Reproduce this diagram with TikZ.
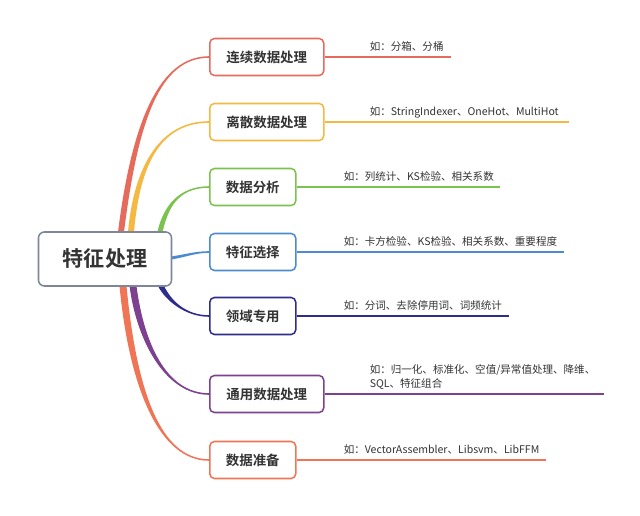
\documentclass[tikz,border=0pt]{standalone}
\usepackage{fontspec}
\setmainfont{Noto Sans CJK SC}[BoldFont={Noto Sans CJK SC Bold}]
\usepackage{xcolor}
\usepackage{tikz}
\usetikzlibrary{calc}
\definecolor{inkgray}{HTML}{333333}
\definecolor{rootgray}{HTML}{7D8799}
\definecolor{contred}{HTML}{E56B5D}
\definecolor{discorange}{HTML}{F5B843}
\definecolor{analgreen}{HTML}{7BC24F}
\definecolor{selblue}{HTML}{4C8BD0}
\definecolor{domnavy}{HTML}{2F2D8C}
\definecolor{genpurple}{HTML}{7E418F}
\definecolor{prepcoral}{HTML}{EF7556}

% tapered branch: colour, start, control 1, control 2, end, start offset, end offset
\newcommand{\taperbranch}[7]{%
  \fill[#1] ($#2+#6$) .. controls ($#3+#6$) and ($#4+#7$) .. ($#5+#7$)
    -- ($#5-#7$) .. controls ($#4-#7$) and ($#3-#6$) .. ($#2-#6$) -- cycle;}

\begin{document}
\begin{tikzpicture}[x=0.03cm, y=-0.03cm,
  rootbox/.style={draw=rootgray, line width=1.3pt, rounded corners=5pt, fill=white,
    minimum width=3.99cm, minimum height=1.62cm, inner sep=0pt,
    font=\fontsize{18}{22}\selectfont\bfseries, text=inkgray},
  topicbox/.style={draw=#1, line width=1.3pt, rounded corners=4pt, fill=white,
    minimum height=1.11cm, inner sep=0pt, anchor=west,
    font=\fontsize{11.5}{14}\selectfont\bfseries, text=inkgray},
  widebox/.style={minimum width=3.42cm},
  narrowbox/.style={minimum width=2.58cm},
  leafline/.style={draw=#1, line width=1.4pt},
  leaftext/.style={inner sep=0pt, anchor=base west, text=inkgray, align=left,
    font=\fontsize{9}{12.5}\selectfont}]
  \useasboundingbox (0,0) rectangle (640,516);

  % Branch starts on the root
  \coordinate (s1) at (121,232);
  \coordinate (s2) at (131,232);
  \coordinate (s3) at (160,232);
  \coordinate (s4) at (171,258);
  \coordinate (s5) at (161,286);
  \coordinate (s6) at (133,286);
  \coordinate (s7) at (123,286);

  % Topic boxes
  \node[topicbox=contred, widebox] (b1) at (209,57) {连续数据处理};
  \node[topicbox=discorange, widebox] (b2) at (209,122) {离散数据处理};
  \node[topicbox=analgreen, narrowbox] (b3) at (209,187) {数据分析};
  \node[topicbox=selblue, narrowbox] (b4) at (209,252) {特征选择};
  \node[topicbox=domnavy, narrowbox] (b5) at (209,316) {领域专用};
  \node[topicbox=genpurple, widebox] (b6) at (209,394) {通用数据处理};
  \node[topicbox=prepcoral, narrowbox] (b7) at (209,460) {数据准备};

  % Tapered branches
  \taperbranch{contred}{(s1)}{(s1)+(14,-112)}{(b1.west)+(-49,0)}{(b1.west)}{(-3,0)}{(0,-0.8)}
  \taperbranch{discorange}{(s2)}{(s2)+(5,-57)}{(b2.west)+(-54,0)}{(b2.west)}{(-3,0)}{(0,-0.8)}
  \taperbranch{analgreen}{(s3)}{(s3)+(6,-27)}{(b3.west)+(-29,0)}{(b3.west)}{(-2.6,0)}{(0,-0.8)}
  \taperbranch{selblue}{(s4)}{(s4)+(14,-2)}{(b4.west)+(-14,0)}{(b4.west)}{(0,-1.5)}{(0,-0.8)}
  \taperbranch{domnavy}{(s5)}{(s5)+(7,14)}{(b5.west)+(-24,0)}{(b5.west)}{(-3,0)}{(0,0.8)}
  \taperbranch{genpurple}{(s6)}{(s6)+(7,54)}{(b6.west)+(-44,0)}{(b6.west)}{(-3.5,0)}{(0,0.8)}
  \taperbranch{prepcoral}{(s7)}{(s7)+(10,104)}{(b7.west)+(-49,0)}{(b7.west)}{(-3.5,0)}{(0,0.8)}

  % Root, drawn over the branch starts
  \node[rootbox] (root) at (105,259) {特征处理};

  % Leaf lines
  \coordinate (e1) at ($(b1.east)+(126,0)$);
  \coordinate (e2) at ($(b2.east)+(244,0)$);
  \coordinate (e3) at ($(b3.east)+(203,0)$);
  \coordinate (e4) at ($(b4.east)+(267,0)$);
  \coordinate (e5) at ($(b5.east)+(212,0)$);
  \coordinate (e6) at ($(b6.east)+(279,0)$);
  \coordinate (e7) at ($(b7.east)+(249,0)$);
  \draw[leafline=contred] (b1.east) -- (e1);
  \draw[leafline=discorange] (b2.east) -- (e2);
  \draw[leafline=analgreen] (b3.east) -- (e3);
  \draw[leafline=selblue] (b4.east) -- (e4);
  \draw[leafline=domnavy] (b5.east) -- (e5);
  \draw[leafline=genpurple] (b6.east) -- (e6);
  \draw[leafline=prepcoral] (b7.east) -- (e7);

  % Leaf texts
  \node[leaftext] (t1) at ($(b1.east)+(45,-6)$) {如：分箱、分桶};
  \node[leaftext] (t2) at ($(b2.east)+(45,-6)$) {如：StringIndexer、OneHot、MultiHot};
  \node[leaftext] (t3) at ($(b3.east)+(47,-6)$) {如：列统计、KS检验、相关系数};
  \node[leaftext] (t4) at ($(b4.east)+(47,-6)$) {如：卡方检验、KS检验、相关系数、重要程度};
  \node[leaftext] (t5) at ($(b5.east)+(47,-6)$) {如：分词、去除停用词、词频统计};
  \node[leaftext, anchor=south west] (t6) at ($(b6.east)+(45,-4)$)
    {如：归一化、标准化、空值/异常值处理、降维、\\SQL、特征组合};
  \node[leaftext] (t7) at ($(b7.east)+(47,-6)$) {如：VectorAssembler、Libsvm、LibFFM};
\end{tikzpicture}
\end{document}
